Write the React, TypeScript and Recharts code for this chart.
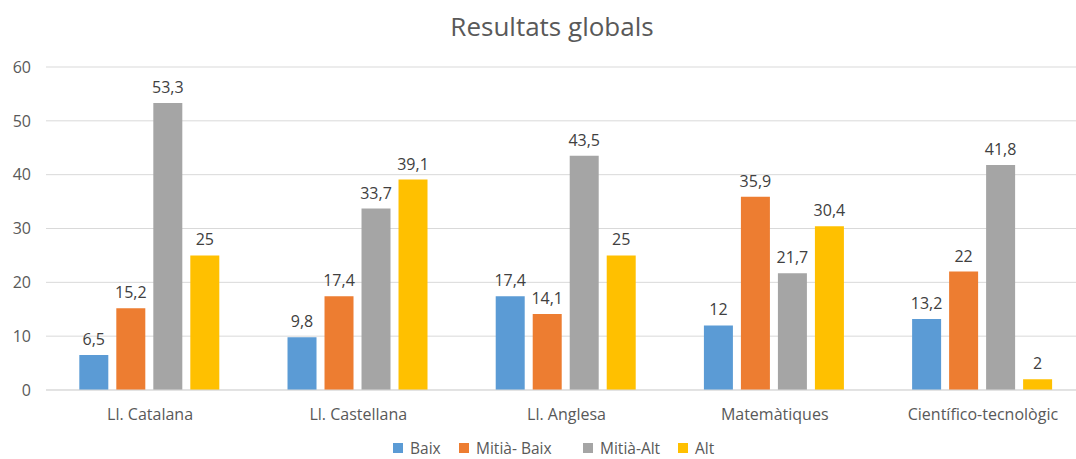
import React from "react";
import { BarChart, Bar, XAxis, YAxis, CartesianGrid, Legend, LabelList } from "recharts";

const categories = ["Ll. Catalana", "Ll. Castellana", "Ll. Anglesa", "Matemàtiques", "Científico-tecnològic"];
const baix = [6.5, 9.8, 17.4, 12, 13.2];
const mitjaBaix = [15.2, 17.4, 14.1, 35.9, 22];
const mitjaAlt = [53.3, 33.7, 43.5, 21.7, 41.8];
const alt = [25, 39.1, 25, 30.4, 2];
const yTicks = [0, 10, 20, 30, 40, 50, 60];
const seriesNames = ["Baix", "Mitià- Baix", "Mitià-Alt", "Alt"];
const seriesKeys = ["baix", "mitjaBaix", "mitjaAlt", "alt"];
const colors = ["#5B9BD5", "#ED7D31", "#A5A5A5", "#FFC000"];

const data = categories.map((c, i) => ({
  name: c,
  baix: baix[i],
  mitjaBaix: mitjaBaix[i],
  mitjaAlt: mitjaAlt[i],
  alt: alt[i],
}));

const FONT = "'Open Sans', sans-serif";
const fmt = (v: any) => String(v).replace(".", ",");
const legendItemWidths = [66, 124, 95, 40];

const LegendContent = () => (
  <div
    style={{
      display: "flex",
      justifyContent: "flex-start",
      alignItems: "flex-end",
      height: 29,
      paddingLeft: 393,
      boxSizing: "border-box",
      fontFamily: FONT,
      fontSize: 15.5,
      lineHeight: "22px",
      color: "#595959",
    }}
  >
    {seriesNames.map((n, i) => (
      <div key={n} style={{ display: "flex", alignItems: "center", height: 22, width: legendItemWidths[i], whiteSpace: "nowrap" }}>
        <span style={{ width: 10, height: 10, background: colors[i], display: "inline-block", marginRight: 7, flexShrink: 0 }} />
        <span>{n}</span>
      </div>
    ))}
  </div>
);

export default function App() {
  return (
    <div
      style={{
        position: "absolute",
        left: 0,
        top: 0,
        width: 1076,
        height: 459,
        overflow: "hidden",
        background: "#fff",
      }}
    >
      <div
        style={{
          position: "absolute",
          left: 0,
          top: 8,
          width: 1104,
          textAlign: "center",
          fontFamily: FONT,
          fontSize: 26,
          color: "#595959",
          lineHeight: "36px",
        }}
      >
        Resultats globals
      </div>
      <BarChart
        width={1106}
        height={459}
        data={data}
        margin={{ top: 67, right: 19, bottom: 0, left: 0 }}
        barCategoryGap="16%"
        barGap={8}
      >
        <CartesianGrid vertical={false} stroke="#D9D9D9" />
        <XAxis
          dataKey="name"
          height={40}
          tickLine={false}
          tickSize={0}
          tickMargin={19}
          axisLine={{ stroke: "#D9D9D9" }}
          tick={{ fill: "#595959", fontSize: 16, fontFamily: FONT }}
          interval={0}
        />
        <YAxis
          width={46}
          domain={[0, 60]}
          ticks={yTicks}
          axisLine={false}
          tickLine={false}
          tickSize={0}
          tickMargin={15}
          tick={{ fill: "#595959", fontSize: 16, fontFamily: FONT }}
        />
        <Legend verticalAlign="bottom" height={29} content={<LegendContent />} />
        {seriesKeys.map((k, i) => (
          <Bar key={k} dataKey={k} name={seriesNames[i]} fill={colors[i]} isAnimationActive={false}>
            <LabelList
              dataKey={k}
              position="top"
              offset={10}
              formatter={fmt}
              style={{ fill: "#404040", fontSize: 16, fontFamily: FONT }}
            />
          </Bar>
        ))}
      </BarChart>
    </div>
  );
}
